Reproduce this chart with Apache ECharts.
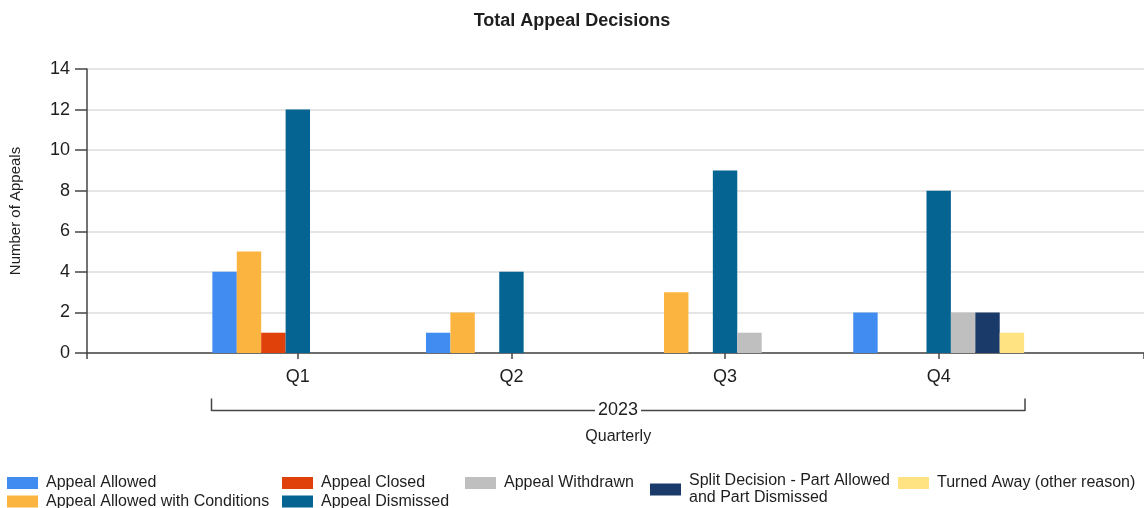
<!DOCTYPE html>
<html>
<head>
<meta charset="utf-8">
<script src="https://cdn.jsdelivr.net/npm/echarts@6/dist/echarts.min.js"></script>
<style>
  html, body { margin: 0; padding: 0; background: #ffffff; }
  #chart { width: 1144px; height: 508px; }
</style>
</head>
<body>
<div id="chart"></div>
<script>
const categories = ['Q1', 'Q2', 'Q3', 'Q4'];
const yearLabel = '2023';
const yTicks = { min: 0, max: 14, interval: 2 };

const appealAllowed = [4, 1, 0, 2];
const appealAllowedWithConditions = [5, 2, 3, 0];
const appealClosed = [1, 0, 0, 0];
const appealDismissed = [12, 4, 9, 8];
const appealWithdrawn = [0, 0, 1, 2];
const splitDecision = [0, 0, 0, 2];
const turnedAway = [0, 0, 0, 1];

const seriesNames = [
  'Appeal Allowed',
  'Appeal Allowed with Conditions',
  'Appeal Closed',
  'Appeal Dismissed',
  'Appeal Withdrawn',
  'Split Decision - Part Allowed\nand Part Dismissed',
  'Turned Away (other reason)'
];
const seriesData = [appealAllowed, appealAllowedWithConditions, appealClosed, appealDismissed, appealWithdrawn, splitDecision, turnedAway];
const colors = ['#418CF0', '#FCB441', '#E0400A', '#056492', '#BFBFBF', '#1A3B69', '#FFE382'];

const FONT = "'Liberation Sans', Arial, sans-serif";
const TXT = '#1e1e1e';
const AX = '#454545';

const chart = echarts.init(document.getElementById('chart'), null, { renderer: 'canvas' });

// legend slot positions (left, top) for each series, in series order
const legendSlots = [
  { left: 7, top: 474.5 },
  { left: 7, top: 493 },
  { left: 282, top: 474.5 },
  { left: 282, top: 493 },
  { left: 465, top: 474.5 },
  { left: 650, top: 472.5 },
  { left: 898, top: 474.5 }
];

const option = {
  animation: false,
  color: colors,
  textStyle: { fontFamily: FONT },
  title: {
    text: 'Total Appeal Decisions',
    left: 'center',
    top: 12,
    padding: 0,
    textStyle: { fontFamily: FONT, fontSize: 18, fontWeight: 'bold', color: TXT }
  },
  legend: legendSlots.map((s, i) => ({
    orient: 'vertical',
    left: s.left,
    top: s.top,
    height: 60,
    padding: 0,
    itemWidth: 31,
    itemHeight: 12,
    icon: 'rect',
    selectedMode: false,
    data: [seriesNames[i]],
    textStyle: { fontFamily: FONT, fontSize: 16, color: TXT, lineHeight: 17, padding: [0, 0, 0, 3] }
  })),
  grid: [
    { left: 84, right: 0, top: 69, height: 284 },
    { left: 191, right: 98.5, top: 69, height: 284 }
  ],
  xAxis: [
    {
      gridIndex: 0,
      type: 'category',
      data: ['', ''],
      boundaryGap: false,
      axisLine: { show: true, lineStyle: { color: AX, width: 1.5 } },
      axisTick: { show: true, length: 6, lineStyle: { color: AX, width: 1.5 } },
      axisLabel: { show: false },
      splitLine: { show: false }
    },
    {
      gridIndex: 1,
      type: 'category',
      data: categories,
      axisLine: { show: false },
      axisTick: { show: true, alignWithLabel: true, length: 6, lineStyle: { color: AX, width: 1.5 } },
      axisLabel: { fontFamily: FONT, fontSize: 18, color: TXT, margin: 15 },
      name: 'Quarterly',
      nameLocation: 'middle',
      nameGap: 76,
      nameTextStyle: { fontFamily: FONT, fontSize: 16, color: TXT }
    }
  ],
  yAxis: [
    {
      gridIndex: 0,
      type: 'value',
      min: yTicks.min,
      max: yTicks.max,
      interval: yTicks.interval,
      axisLine: { show: true, lineStyle: { color: AX, width: 1.5 } },
      axisTick: { show: true, length: 12, lineStyle: { color: AX, width: 1.5 } },
      axisLabel: { fontFamily: FONT, fontSize: 18, color: TXT, margin: 17 },
      splitLine: { show: true, lineStyle: { color: '#dcdcdc', width: 1.5 } },
      name: 'Number of Appeals',
      nameLocation: 'middle',
      nameRotate: 90,
      nameGap: 64,
      nameTextStyle: { fontFamily: FONT, fontSize: 15, color: TXT }
    },
    {
      gridIndex: 1,
      type: 'value',
      min: yTicks.min,
      max: yTicks.max,
      interval: yTicks.interval,
      show: false
    }
  ],
  series: seriesNames.map((n, i) => ({
    name: n,
    type: 'bar',
    xAxisIndex: 1,
    yAxisIndex: 1,
    data: seriesData[i],
    barGap: '0%',
    barCategoryGap: '20%',
    itemStyle: { color: colors[i] }
  })),
  graphic: [
    { type: 'line', shape: { x1: 211.5, y1: 410.5, x2: 1025, y2: 410.5 }, style: { stroke: AX, lineWidth: 1.5 } },
    { type: 'line', shape: { x1: 211.5, y1: 398.5, x2: 211.5, y2: 411 }, style: { stroke: AX, lineWidth: 1.5 } },
    { type: 'line', shape: { x1: 1025, y1: 398.5, x2: 1025, y2: 411 }, style: { stroke: AX, lineWidth: 1.5 } },
    {
      type: 'text',
      x: 618, y: 410.5,
      style: {
        text: yearLabel, fill: TXT, font: "18px 'Liberation Sans', Arial, sans-serif",
        textAlign: 'center', textVerticalAlign: 'middle',
        backgroundColor: '#ffffff', padding: [0, 3]
      }
    }
  ]
};

chart.setOption(option);
</script>
</body>
</html>
